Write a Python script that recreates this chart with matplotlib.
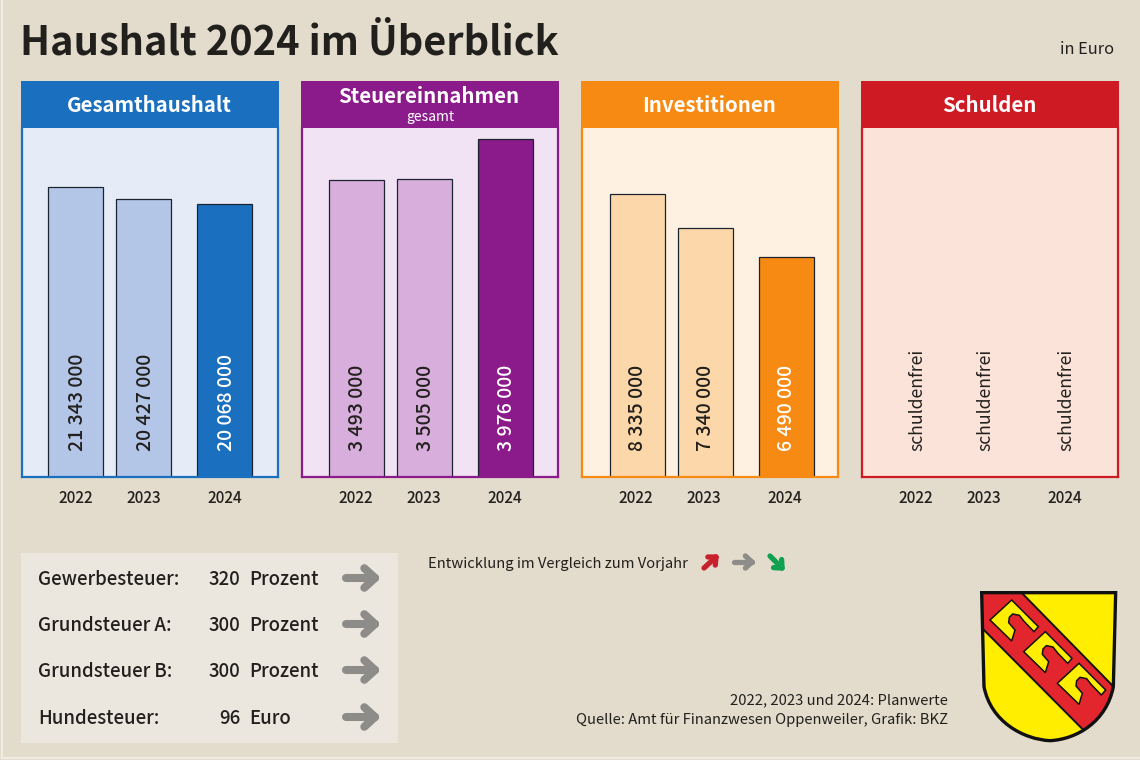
import math
import matplotlib
matplotlib.use("Agg")
import matplotlib.pyplot as plt
from matplotlib.patches import Rectangle, PathPatch, Polygon
from matplotlib.path import Path

plt.rcParams['font.family'] = ['Noto Sans CJK JP', 'DejaVu Sans']

# ---- data ----
years = ["2022", "2023", "2024"]
panel_titles = ["Gesamthaushalt", "Steuereinnahmen", "Investitionen", "Schulden"]
gesamthaushalt = [21343000, 20427000, 20068000]
steuereinnahmen = [3493000, 3505000, 3976000]
investitionen = [8335000, 7340000, 6490000]
schulden_text = ["schuldenfrei", "schuldenfrei", "schuldenfrei"]
tax_names = ["Gewerbesteuer:", "Grundsteuer A:", "Grundsteuer B:", "Hundesteuer:"]
tax_values = ["320", "300", "300", "96"]
tax_units = ["Prozent", "Prozent", "Prozent", "Euro"]

W, H = 1140, 760
BG = '#E3DCCD'
INK = '#22201d'
fig = plt.figure(figsize=(W/100, H/100), dpi=100, facecolor=BG)

def panel_axes(x0, x1, y0, y1, **kw):
    return fig.add_axes([x0/W, 1-y1/H, (x1-x0)/W, (y1-y0)/H], **kw)

# overlay in pixel coordinates
ov = fig.add_axes([0, 0, 1, 1], zorder=0)
ov.set_xlim(0, W); ov.set_ylim(H, 0); ov.axis('off')
ov.add_patch(Rectangle((1.5, -2), W, H-0.5, fc='none', ec='#EFEBE3', lw=1.6))

top = fig.add_axes([0, 0, 1, 1], zorder=5, facecolor='none')
top.set_xlim(0, W); top.set_ylim(H, 0); top.axis('off')

top.text(20, 54.5, "Haushalt 2024 im Überblick", fontsize=28.6, fontweight='bold', color=INK, va='baseline')
top.text(1114, 54, "in Euro", fontsize=11.8, color=INK, ha='right', va='baseline')

# ---- panels ----
panels = [
    (22, gesamthaushalt, 25680000, '#1A6FBF', '#E6EBF8', '#B4C6E7', 0),
    (302, steuereinnahmen, 4105000, '#8B1A8B', '#F1E2F4', '#D8AFDC', 1),
    (582, investitionen, 10280000, '#F78A12', '#FEF1E2', '#FCD7A9', 2),
    (862, None, 1, '#CE1A22', '#FBE3D9', None, 0),
]
offsets = [53.5, 121.5, 202.5]
BAR_W = 54.5

for (x0, vals, ymax, col, bg, light, shift), title in zip(panels, panel_titles):
    ax = panel_axes(x0, x0+256, 128, 477, facecolor=bg, zorder=2)
    ax.set_xlim(0, 256); ax.set_ylim(0, ymax)
    for s in ax.spines.values():
        s.set_color(col); s.set_linewidth(1.6)
    ax.spines['top'].set_visible(False)
    ax.set_yticks([])
    ax.set_xticks(offsets, years)
    ax.tick_params(axis='x', length=0, pad=9.3, labelsize=11, labelcolor=INK)
    for lab in ax.get_xticklabels():
        lab.set_fontweight('medium')
    if vals is not None:
        cols = [light, light, col]
        ax.bar([o+shift for o in offsets], vals, width=BAR_W, color=cols,
               edgecolor='#1b2430', linewidth=0.9, zorder=2)
        for i, (o, v) in enumerate(zip(offsets, vals)):
            s = f"{v:,}".replace(",", " ")
            ax.annotate(s, (o, 0), xytext=(2, 26), textcoords='offset pixels',
                        rotation=90, ha='center', va='bottom', fontsize=14, fontweight='medium',
                        color='white' if i == 2 else INK, zorder=3)
    else:
        for o, s in zip(offsets, schulden_text):
            ax.annotate(s, (o, 0), xytext=(2, 26), textcoords='offset pixels',
                        rotation=90, ha='center', va='bottom', fontsize=12.7, color=INK, zorder=3)
    # header
    top.add_patch(Rectangle((x0-1, 81), 258, 47, fc=col, ec='none'))
    cx = x0 + 128
    if title == "Steuereinnahmen":
        top.text(cx-1.5, 103, title, color='white', fontsize=14.7, fontweight='bold', ha='center', va='baseline')
        top.text(cx, 121, "gesamt", color='white', fontsize=10, ha='center', va='baseline')
    else:
        top.text(cx-0.5, 111.5, title, color='white', fontsize=14.7, fontweight='bold', ha='center', va='baseline')

# ---- arrows ----
def arrow(x0, y0, x1, y1, col, lw=4.2):
    top.plot([x0, x1], [y0, y1], color=col, lw=lw, solid_capstyle='round')
    a = math.atan2(y1-y0, x1-x0)
    L = math.hypot(x1-x0, y1-y0)*0.5
    for da in (2.4, -2.4):
        top.plot([x1, x1+L*math.cos(a+da)], [y1, y1+L*math.sin(a+da)], color=col, lw=lw,
                 solid_capstyle='round')

# ---- tax table ----
top.add_patch(Rectangle((21, 553), 377, 190, fc='#EBE7DE', ec='none'))
ys = [585, 631, 677, 724]
for y, n, v, u in zip(ys, tax_names, tax_values, tax_units):
    top.text(38, y, n, fontsize=13.4, fontweight='medium', color=INK, va='baseline')
    top.text(240, y, v, fontsize=13.4, fontweight='medium', color=INK, va='baseline', ha='right')
    top.text(249, y, u, fontsize=13.4, fontweight='medium', color=INK, va='baseline')
    arrow(346, y-7, 375, y-7, '#8E8C89', lw=5.8)

# ---- legend ----
top.text(428, 568, "Entwicklung im Vergleich zum Vorjahr", fontsize=10.65, color=INK, va='baseline')
arrow(704, 568, 716, 557, '#C8202C', lw=3.8)
arrow(734, 562, 752, 562, '#8E8C89', lw=3.8)
arrow(770, 556, 782, 568, '#0FA14F', lw=3.8)

# ---- source ----
top.text(948, 704, "2022, 2023 und 2024: Planwerte", fontsize=10.65, color=INK, ha='right', va='baseline')
top.text(948, 724, "Quelle: Amt für Finanzwesen Oppenweiler, Grafik: BKZ", fontsize=10.65, color=INK, ha='right', va='baseline')

# ---- coat of arms ----
def z(p):
    return (960 + p[0]/3, 580 + p[1]/3)

shield = Path(
    [z(p) for p in [(65, 38), (467, 38), (460, 320), (440, 425), (350, 478), (270, 482),
                    (190, 478), (92, 425), (72, 320), (65, 38)]],
    [Path.MOVETO, Path.LINETO, Path.LINETO, Path.CURVE4, Path.CURVE4, Path.CURVE4,
     Path.CURVE4, Path.CURVE4, Path.CURVE4, Path.CLOSEPOLY])
top.add_patch(PathPatch(shield, fc='#FFEE00', ec='none', zorder=6))
band = Polygon([z(p) for p in [(40, 18), (165, 18), (490, 350), (400, 480), (40, 118)]],
               closed=True, fc='#E3262E', ec='#111111', lw=1.4, zorder=7)
top.add_patch(band)
band.set_clip_path(PathPatch(shield, transform=top.transData))
hook = [(90, 120), (155, 60), (235, 140), (222, 155), (192, 124), (178, 106), (158, 102),
        (148, 112), (146, 128), (165, 150), (155, 183)]
for k in range(3):
    pts = [z((p[0]+k*101, p[1]+k*95)) for p in hook]
    top.add_patch(Polygon(pts, closed=True, fc='#FFEE00', ec='#111111', lw=1.1, zorder=8))
top.add_patch(PathPatch(shield, fc='none', ec='#111111', lw=2.4, zorder=9))

fig.savefig("out.png", dpi=100, facecolor=BG)
